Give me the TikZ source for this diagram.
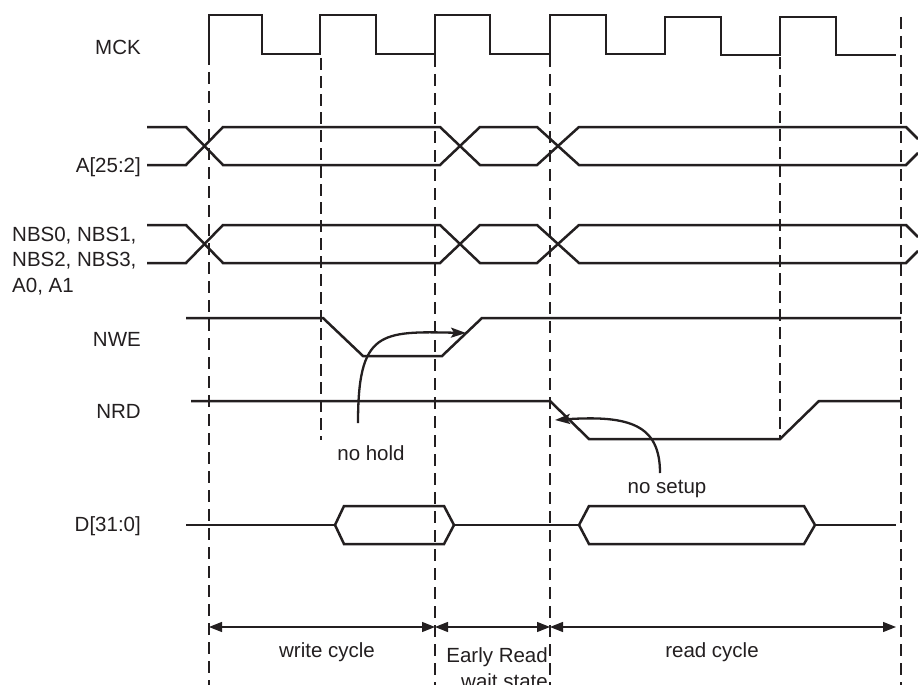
\documentclass[tikz,border=0pt]{standalone}
\usepackage{fontspec}
\setmainfont{Liberation Sans}
\usetikzlibrary{arrows.meta}
\definecolor{ink}{RGB}{35,31,32}
\begin{document}
\begin{tikzpicture}[x=1pt,y=-1pt,
  wave/.style={draw=ink,line width=2.5pt,line join=miter},
  thickdash/.style={draw=ink,line width=2.8pt,dash pattern=on 12pt off 7pt},
  thindash/.style={draw=ink,line width=1.3pt,dash pattern=on 12pt off 6pt},
  lbl/.style={font=\fontsize{20.5}{25.5}\selectfont,text=ink,inner sep=0pt},
  note/.style={draw=ink,line width=2.3pt,-{Stealth[length=15pt,width=10pt,inset=3pt]}},
  dim/.style={draw=ink,line width=1.3pt,{Triangle[length=13pt,width=10pt]}-{Triangle[length=13pt,width=10pt]}}]
\fill[white] (0,0) rectangle (918,685);
\useasboundingbox (0,0) rectangle (918,685);

% vertical guide lines
\draw[thickdash] (209,53) -- (209,690);
\draw[thickdash] (435,55) -- (435,690);
\draw[thickdash] (550,55) -- (550,690);
\draw[thickdash] (901,17) -- (901,690);
\draw[thindash] (321,58) -- (321,440);
\draw[thindash] (780,57) -- (780,440);

% labels
\node[lbl,anchor=base east] (mck) at (141,55) {MCK};
\node[lbl,anchor=base east] (addr) at (141,172) {A[25:2]};
\node[lbl,anchor=base west] (nbsa) at (12,241) {NBS0, NBS1,};
\node[lbl,anchor=base west] (nbsb) at (12,266.5) {NBS2, NBS3,};
\node[lbl,anchor=base west] (nbsc) at (12,292) {A0, A1};
\node[lbl,anchor=base east] (nwe) at (141,346) {NWE};
\node[lbl,anchor=base east] (nrd) at (141,418) {NRD};
\node[lbl,anchor=base east] (data) at (141,531) {D[31:0]};

% MCK
\draw[wave] (209,53) -- (209,15) -- (262,15) -- (262,54) -- (320,54) -- (320,15)
  -- (376,15) -- (376,54) -- (435,54) -- (435,15) -- (490,15) -- (490,54)
  -- (550,54) -- (550,15) -- (606,15) -- (606,54) -- (665,54) -- (665,17)
  -- (721,17) -- (721,55) -- (780,55) -- (780,17) -- (836,17) -- (836,55) -- (896,55);

% A[25:2]
\draw[wave] (147,127) -- (186,127) -- (223,165) -- (440,165) -- (480,127) -- (537,127)
  -- (579,165) -- (906,165) -- (918,153);
\draw[wave] (147,165) -- (186,165) -- (223,127) -- (440,127) -- (480,165) -- (537,165)
  -- (579,127) -- (906,127) -- (918,139);

% NBS
\draw[wave] (147,225) -- (186,225) -- (223,263) -- (440,263) -- (480,225) -- (537,225)
  -- (579,263) -- (906,263) -- (918,251);
\draw[wave] (147,263) -- (186,263) -- (223,225) -- (440,225) -- (480,263) -- (537,263)
  -- (579,225) -- (906,225) -- (918,237);

% NWE
\draw[wave] (186,318) -- (323,318) -- (363,356) -- (442,356) -- (482,318) -- (901,318);
% NRD
\draw[wave] (191,401) -- (550,401) -- (589,439) -- (780,439) -- (819,401) -- (901,401);

% D[31:0]
\draw[wave] (186,525) -- (335,525);
\draw[wave] (335,525) -- (344,506) -- (444,506) -- (454,525) -- (444,544) -- (344,544) -- cycle;
\draw[wave] (454,525) -- (579,525);
\draw[wave] (579,525) -- (589,506) -- (804,506) -- (815,525) -- (804,544) -- (589,544) -- cycle;
\draw[wave] (815,525) -- (896,525);

% annotations
\coordinate (holdtail) at (358,423);
\coordinate (holdtip) at (466,333);
\draw[note] (holdtail) .. controls (358,331) and (380,331) .. (holdtip);
\node[lbl,anchor=base] (nohold) at (371,460) {no hold};

\coordinate (setuptail) at (660,473);
\coordinate (setuptip) at (555,420);
\draw[note] (setuptail) .. controls (660,425) and (630,415) .. (setuptip);
\node[lbl,anchor=base] (nosetup) at (667,493) {no setup};

% cycle dimensions
\coordinate (w1) at (209,627);
\coordinate (w2) at (435,627);
\coordinate (e2) at (550,627);
\coordinate (r2) at (896,627);
\draw[dim] (w1) -- (w2);
\draw[dim] (w2) -- (e2);
\draw[dim] (e2) -- (r2);
\node[lbl,anchor=base] (wc) at (327,657) {write cycle};
\node[lbl,anchor=base east] (er1) at (548,662) {Early Read};
\node[lbl,anchor=base east] (er2) at (548,688) {wait state};
\node[lbl,anchor=base] (rc) at (712,657) {read cycle};
\end{tikzpicture}
\end{document}
